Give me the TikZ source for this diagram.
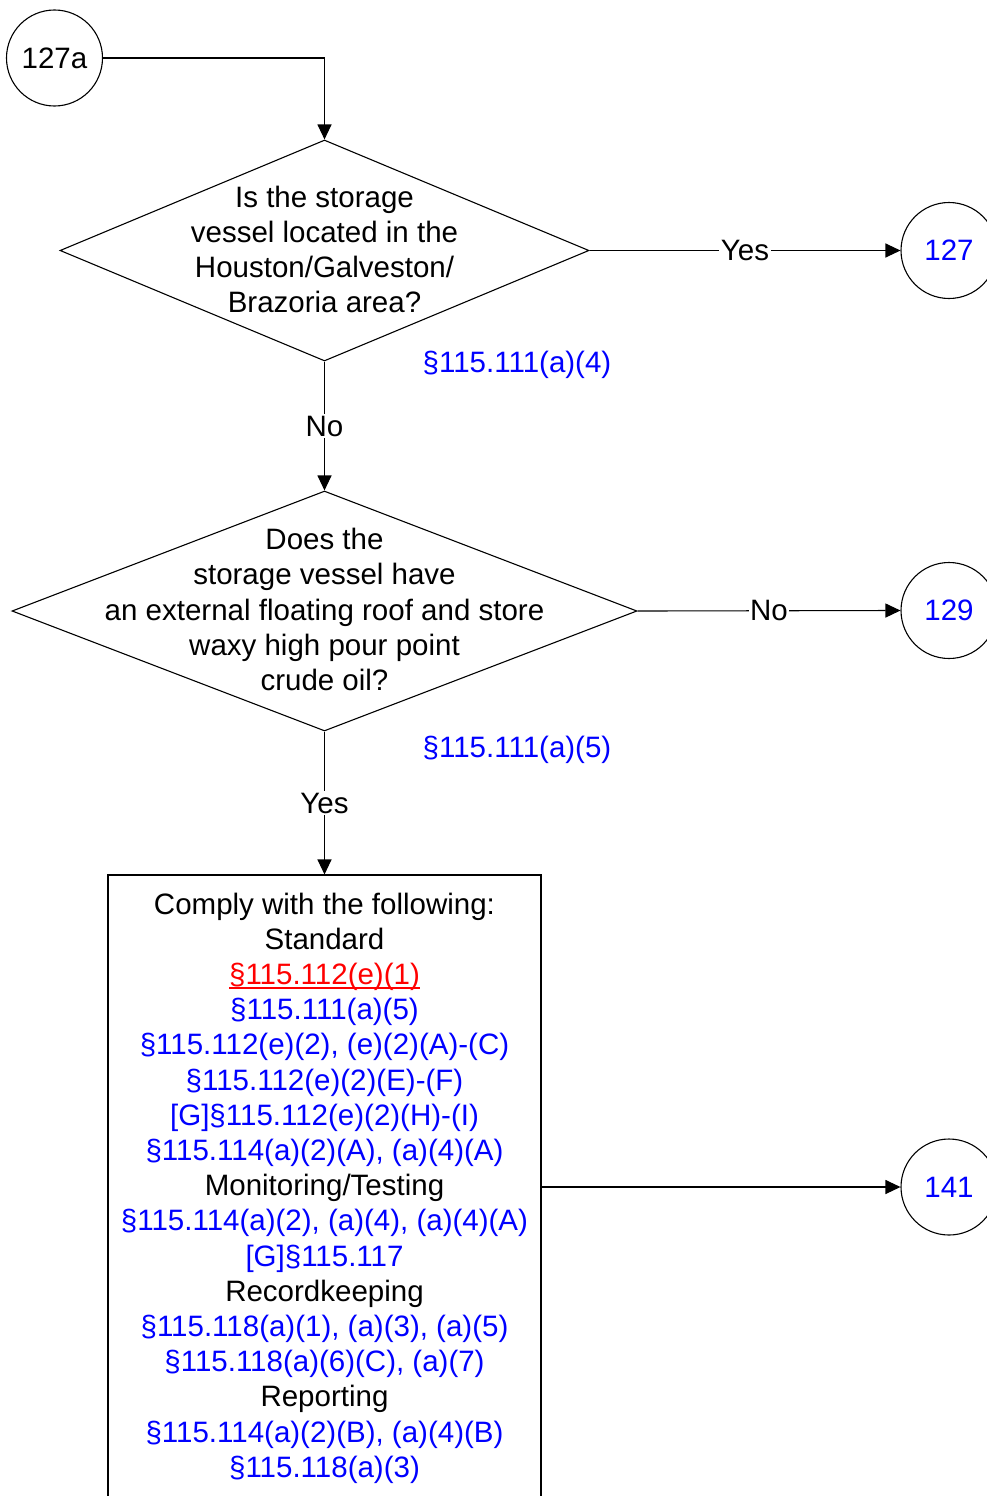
\documentclass[tikz,border=0pt]{standalone}
\usepackage{fontspec}
\setmainfont{Liberation Sans}
\usetikzlibrary{shapes.geometric,arrows.meta}
\definecolor{refblue}{RGB}{0,0,255}
\definecolor{refred}{RGB}{255,0,0}
\newcommand\redul[1]{\setbox0=\hbox{#1}\rlap{\vrule height -2.6pt depth 4.6pt width \wd0}\box0}
\begin{document}
\begin{tikzpicture}[x=1pt,y=-1pt,
  every node/.style={font=\fontsize{29.5}{35.2}\selectfont},
  conn/.style={draw=black, line width=1.1pt},
  arr/.style={conn,-{Triangle[length=15pt,width=14pt]}},
  dec/.style={draw, shape=diamond, line width=1.1pt, inner sep=0pt},
  term/.style={draw, circle, line width=1.1pt, minimum size=96pt, inner sep=0pt},
  lbl/.style={fill=white, inner sep=1.5pt},
  blu/.style={text=refblue}]
\useasboundingbox (0,0) rectangle (987,1496);

% terminals
\node[term] (c127a) at (54.5,58) {127a};
\node[term, blu] (c127) at (949,250.5) {127};
\node[term, blu] (c129) at (949,610.5) {129};
\node[term, blu] (c141) at (949,1187) {141};

% decisions
\node[dec, minimum width=529pt, minimum height=221pt] (d1) at (324.5,250.5) {};
\node[align=center, inner sep=0pt] (t1) at (324.5,249.5) {Is the storage\\vessel located in the\\Houston/Galveston/\\Brazoria area?};
\node[dec, minimum width=625pt, minimum height=240pt] (d2) at (324.5,611) {};
\node[align=center, inner sep=0pt] (t2) at (324.5,609.5) {Does the\\storage vessel have\\an external floating roof and store\\waxy high pour point\\crude oil?};

% citations
\node[blu] (r1) at (517,364.5) {§115.111(a)(4)};
\node[blu] (r2) at (517,749.5) {§115.111(a)(5)};

% action box
\node[draw, line width=1.1pt, minimum width=433pt, minimum height=624pt, inner sep=0pt] (box) at (324.5,1187) {};
\node[align=center, anchor=north, inner sep=0pt] (bt) at (324.5,892.5) {Comply with the following:\\
Standard\\
\textcolor{refred}{\redul{§115.112(e)(1)}}\\
\textcolor{refblue}{§115.111(a)(5)}\\
\textcolor{refblue}{§115.112(e)(2), (e)(2)(A)-(C)}\\
\textcolor{refblue}{§115.112(e)(2)(E)-(F)}\\
\textcolor{refblue}{[G]§115.112(e)(2)(H)-(I)}\\
\textcolor{refblue}{§115.114(a)(2)(A), (a)(4)(A)}\\
Monitoring/Testing\\
\textcolor{refblue}{§115.114(a)(2), (a)(4), (a)(4)(A)}\\
\textcolor{refblue}{[G]§115.117}\\
Recordkeeping\\
\textcolor{refblue}{§115.118(a)(1), (a)(3), (a)(5)}\\
\textcolor{refblue}{§115.118(a)(6)(C), (a)(7)}\\
Reporting\\
\textcolor{refblue}{§115.114(a)(2)(B), (a)(4)(B)}\\
\textcolor{refblue}{§115.118(a)(3)}};

% connectors
\draw[arr] (c127a.east) -| (d1.north);
\draw[arr] (d1.east) -- node[lbl] {Yes} (c127.west);
\draw[arr] (d1.south) -- node[lbl] {No} (d2.north);
\draw[arr] (d2.east) -- node[lbl] {No} (c129.west);
\draw[arr] (d2.south) -- node[lbl] {Yes} (box.north);
\draw[arr] (box.east) -- (c141.west);
\end{tikzpicture}
\end{document}
